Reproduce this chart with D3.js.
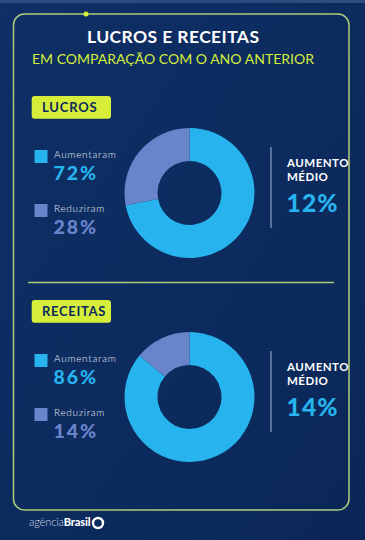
<!DOCTYPE html>
<html><head><meta charset="utf-8">
<script src="https://cdn.jsdelivr.net/npm/d3@7"></script>
<style>
html,body{margin:0;padding:0;background:#0c2a5c;}
svg{display:block;}
text{font-family:Lato,"Open Sans",sans-serif;}
</style></head>
<body>
<script>
const title = "LUCROS E RECEITAS";
const subtitle = "EM COMPARAÇÃO COM O ANO ANTERIOR";
const sections = ["LUCROS", "RECEITAS"];
const categories = ["Aumentaram", "Reduziram"];
const lucrosValues = [72, 28];
const receitasValues = [86, 14];
const averageIncrease = [12, 14];
const avgLabel = ["AUMENTO", "MÉDIO"];
const colors = ["#27b4ee", "#6a84cc"];

const W = 365, H = 540;
const svg = d3.select("body").append("svg").attr("width", W).attr("height", H);

// stretch text horizontally by a factor (letter spacing) to mimic the wider typeface
function widen(sel, factor) {
  sel.each(function () {
    const w = this.getComputedTextLength();
    d3.select(this).attr("textLength", w * factor).attr("lengthAdjust", "spacing");
  });
  return sel;
}

const defs = svg.append("defs");
const g = defs.append("linearGradient").attr("id","bg").attr("x1",0).attr("y1",0).attr("x2",1).attr("y2",1);
g.append("stop").attr("offset","0%").attr("stop-color","#0f2f66");
g.append("stop").attr("offset","100%").attr("stop-color","#0a2757");
svg.append("rect").attr("width",W).attr("height",H).attr("fill","url(#bg)");
svg.append("rect").attr("width",W).attr("height",3).attr("fill","#2c4c80");

// frame
svg.append("rect").attr("x",13.5).attr("y",14).attr("width",335.5).attr("height",496)
  .attr("rx",11).attr("fill","none").attr("stroke","#aecb7c").attr("stroke-width",1.5);
svg.append("circle").attr("cx",86).attr("cy",14).attr("r",2.5).attr("fill","#d9f03a");

svg.append("text").attr("x",87).attr("y",43.3)
  .attr("fill","#ffffff").attr("font-weight",700).attr("font-size",17.5)
  .attr("textLength",172).attr("lengthAdjust","spacing").text(title);
svg.append("text").attr("x",32).attr("y",64.3)
  .attr("fill","#d4ee3c").attr("font-weight",400).attr("font-size",14)
  .attr("textLength",282).attr("lengthAdjust","spacing").text(subtitle);

// divider
svg.append("line").attr("x1",28).attr("x2",334).attr("y1",282.5).attr("y2",282.5)
  .attr("stroke","#aecb7c").attr("stroke-width",1.5);

const data = [lucrosValues, receitasValues];
const offsets = [0, 204];
const pie = d3.pie().sort(null).value(d => d);
const arc = d3.arc().innerRadius(32).outerRadius(65);
const pct = v => v + "%";

sections.forEach((name, i) => {
  const oy = offsets[i];
  const s = svg.append("g").attr("transform", `translate(0,${oy})`);
  // badge
  s.append("rect").attr("x",31.7).attr("y",96).attr("width",79.3).attr("height",22.7).attr("rx",3).attr("fill","#d6ee3a");
  widen(s.append("text").attr("x",42).attr("y",111.7).attr("fill","#0c2a5c").attr("font-weight",700)
    .attr("font-size",13).text(name), 1.08);

  // legend
  categories.forEach((c, j) => {
    const ly = 150 + j * 54;
    s.append("rect").attr("x",34.5).attr("y",ly).attr("width",13).attr("height",13).attr("fill",colors[j]);
    widen(s.append("text").attr("x",54).attr("y",ly + 7.5).attr("fill","#e8eef8").attr("font-weight",300)
      .attr("font-size",10).text(c), 1.12);
    widen(s.append("text").attr("x",53.5).attr("y",ly + 29.5).attr("fill",colors[j]).attr("font-weight",900)
      .attr("font-size",19.5).text(pct(data[i][j])), 1.1);
  });

  // donut
  const dg = s.append("g").attr("transform","translate(189.5,193)");
  dg.selectAll("path").data(pie(data[i])).join("path")
    .attr("d", arc).attr("fill", (d, j) => colors[j]);

  // vertical line
  s.append("line").attr("x1",271).attr("x2",271).attr("y1",147).attr("y2",228)
    .attr("stroke","#8ea3c8").attr("stroke-width",1.2);
  avgLabel.forEach((t, k) => {
    widen(s.append("text").attr("x",287).attr("y",167 + k*13.7).attr("fill","#ffffff").attr("font-weight",700)
      .attr("font-size",11.5).text(t), 1.05);
  });
  widen(s.append("text").attr("x",286.5).attr("y",211.7).attr("fill",colors[0]).attr("font-weight",900)
    .attr("font-size",24.5).text(pct(averageIncrease[i])), 1.05);
});

// footer
const f = svg.append("text").attr("x",29).attr("y",526).attr("fill","#ffffff").attr("font-size",11)
  .attr("textLength",61.5).attr("lengthAdjust","spacing");
f.append("tspan").attr("font-weight",300).attr("fill","#d0d8e8").text("agência");
f.append("tspan").attr("font-weight",900).text("Brasil");
svg.append("circle").attr("cx",98).attr("cy",523).attr("r",5).attr("fill","none")
  .attr("stroke","#ffffff").attr("stroke-width",2.4);
</script>
</body></html>
